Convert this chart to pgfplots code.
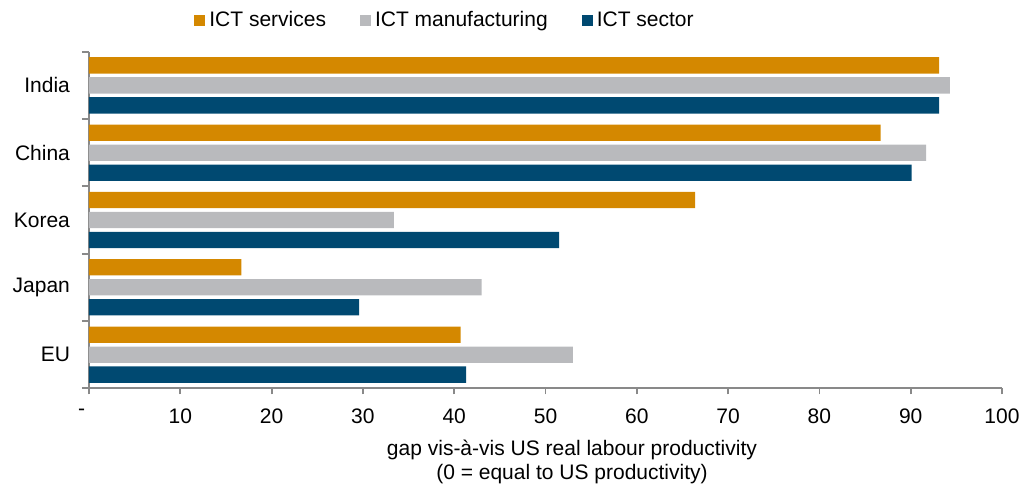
\documentclass[border=0pt]{standalone}
\usepackage{fontspec}
\setmainfont{Liberation Sans}
\usepackage{pgfplots}
\pgfplotsset{compat=1.18}
\definecolor{ictserv}{RGB}{212,136,0}
\definecolor{ictman}{RGB}{185,186,189}
\definecolor{ictsec}{RGB}{0,73,113}
\definecolor{axgray}{RGB}{137,137,137}
\begin{document}
\begin{tikzpicture}
\begin{axis}[
  at={(0,0)}, anchor=south west,
  scale only axis, width=456.5pt, height=168.3pt,
  xbar, bar width=0.242,
  xmin=0, xmax=100, ymin=-0.5, ymax=4.5,
  xtick={0,10,...,100},
  xticklabels={{\makebox[0pt][r]{-\hspace{2pt}}},10,20,30,40,50,60,70,80,90,100},
  ytick={0,1,2,3,4},
  yticklabels={EU,Japan,Korea,China,India},
  minor ytick={-0.5,0.5,1.5,2.5,3.5,4.5},
  axis x line*=bottom, axis y line*=left,
  axis line style={axgray, line width=0.9pt},
  tick align=outside,
  major tick length=3pt, minor tick length=3.5pt,
  major y tick style={draw=none},
  minor y tick style={axgray, line width=0.9pt},
  major x tick style={axgray, line width=0.9pt},
  tick label style={font=\fontsize{10.5}{12}\selectfont},
  xticklabel style={yshift=-3.8pt},
  yticklabel style={xshift=-3pt},
  /pgf/number format/assume math mode=true,
  xlabel={gap vis-à-vis US real labour productivity\\(0 = equal to US productivity)},
  xlabel style={at={(axis description cs:0.529,0)}, anchor=center, yshift=-36.6pt, align=center, font=\fontsize{10.5}{12}\selectfont},
  legend image code/.code={\fill[#1,draw=none] (0pt,-2.75pt) rectangle (5.5pt,2.75pt);},
  legend style={at={(0.391,1)}, anchor=center, yshift=15.7pt, draw=none, fill=none,
    legend columns=3, font=\fontsize{10.5}{12}\selectfont,
    /tikz/every even column/.append style={column sep=15pt}},
]
\addplot[xbar, bar shift=0.297, fill=ictserv, draw=none] coordinates {
  (40.7,0) (16.7,1) (66.4,2) (86.7,3) (93.1,4)};
\addlegendentry{ICT services}
\addplot[xbar, bar shift=0, fill=ictman, draw=none] coordinates {
  (53.0,0) (43.0,1) (33.4,2) (91.7,3) (94.3,4)};
\addlegendentry{ICT manufacturing}
\addplot[xbar, bar shift=-0.297, fill=ictsec, draw=none] coordinates {
  (41.3,0) (29.6,1) (51.5,2) (90.1,3) (93.1,4)};
\addlegendentry{ICT sector}
\end{axis}
\pgfresetboundingbox
\path[use as bounding box] (-44.5pt,-47.35pt) rectangle (466.5pt,194.15pt);
\end{tikzpicture}
\end{document}
